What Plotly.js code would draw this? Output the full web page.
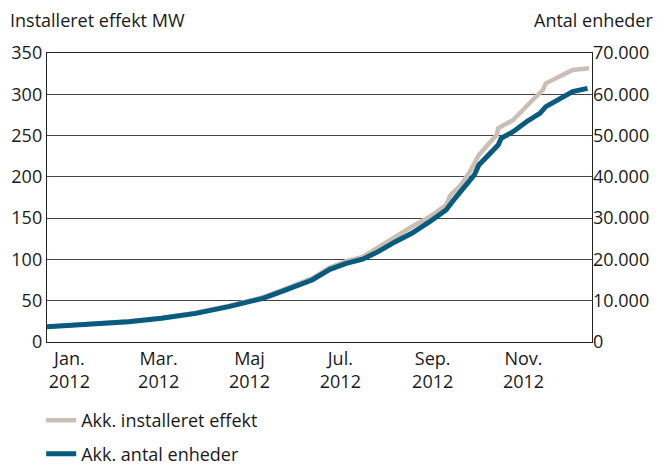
<!DOCTYPE html>
<html>
<head>
<meta charset="utf-8">
<script src="https://cdn.plot.ly/plotly-3.0.1.min.js"></script>
<style>html,body{margin:0;padding:0;background:#fff;}#chart{width:664px;height:466px;}</style>
</head>
<body>
<div id="chart"></div>
<script>
// Akk. antal enheder (right axis)
const unitDates = ['2012-01-01','2012-02-03','2012-02-25','2012-03-18','2012-04-10','2012-05-02','2012-05-25','2012-06-05','2012-06-16','2012-06-27','2012-07-09','2012-07-20','2012-07-31','2012-08-11','2012-08-22','2012-09-02','2012-09-14','2012-09-25','2012-10-01','2012-10-08','2012-10-14','2012-10-17','2012-10-24','2012-10-30','2012-11-01','2012-11-09','2012-11-18','2012-11-27','2012-12-01','2012-12-12','2012-12-19','2012-12-29'];
const unitValues = [3700,4280,4920,5740,6940,8560,10580,12040,13400,15020,17600,19060,20040,22000,24300,26320,29140,31980,34800,37620,40460,42880,45700,47720,49340,50940,53360,55380,57000,59020,60640,61440];

// Akk. installeret effekt MW (left axis)
const mwDates = ['2012-01-01','2012-02-03','2012-02-25','2012-03-18','2012-04-10','2012-05-02','2012-05-25','2012-06-05','2012-06-16','2012-06-27','2012-07-09','2012-07-20','2012-07-31','2012-08-11','2012-08-22','2012-09-02','2012-09-14','2012-09-25','2012-09-28','2012-10-04','2012-10-11','2012-10-17','2012-10-24','2012-10-29','2012-10-30','2012-11-09','2012-11-20','2012-11-29','2012-12-01','2012-12-12','2012-12-19','2012-12-30'];
const mwValues = [18.5,21.6,25.0,29.2,35.4,43.8,54.2,61.6,68.8,77.0,90.2,97.8,103.0,115.4,127.5,139.6,151.7,165.9,178.0,188.1,206.3,226.5,240.6,250.7,258.8,268.9,289.1,305.2,313.3,323.4,329.4,331.4];

const xTickVals = ['2012-01-16','2012-03-16','2012-05-16','2012-07-16','2012-09-16','2012-11-16'];
const xTickText = ['Jan.<br>2012','Mar.<br>2012','Maj<br>2012','Jul.<br>2012','Sep.<br>2012','Nov.<br>2012'];
const leftTicks = [0,50,100,150,200,250,300,350];
const rightTicks = [0,10000,20000,30000,40000,50000,60000,70000];
const rightTickText = ['0','10.000','20.000','30.000','40.000','50.000','60.000','70.000'];

const font = {family: '"Open Sans", "Noto Sans", sans-serif', size: 18, color: '#1a1a1a'};

const traces = [
  {x: mwDates, y: mwValues, type: 'scatter', mode: 'lines', name: 'Akk. installeret effekt',
   legendgroup: 'a', line: {color: '#cbbfb5', width: 4.5}, yaxis: 'y'},
  {x: unitDates, y: unitValues, type: 'scatter', mode: 'lines', name: 'Akk. antal enheder',
   legendgroup: 'b', line: {color: '#065b7e', width: 5}, yaxis: 'y2'}
];

const layout = {
  width: 664, height: 466,
  margin: {l: 47, r: 72, t: 53, b: 124, autoexpand: false},
  paper_bgcolor: '#fff', plot_bgcolor: '#fff',
  font: font,
  showlegend: true,
  legend: {xref: 'container', yref: 'container', x: 0.062, xanchor: 'left', y: 0.137, yanchor: 'top',
           orientation: 'v', font: font, bgcolor: 'rgba(0,0,0,0)', tracegroupgap: 7},
  xaxis: {type: 'date', range: ['2012-01-01','2013-01-01'], tickvals: xTickVals, ticktext: xTickText,
          showgrid: false, zeroline: false, showline: true, linecolor: '#222', linewidth: 1.2, mirror: true,
          ticks: '', tickfont: font, automargin: false},
  yaxis: {range: [0, 350], tickvals: leftTicks, showgrid: true, gridcolor: '#444', gridwidth: 1, automargin: false,
          zeroline: false, showline: true, linecolor: '#222', linewidth: 1.2, mirror: true, ticks: '', tickfont: font},
  yaxis2: {range: [0, 70000], overlaying: 'y', side: 'right', tickvals: rightTicks, ticktext: rightTickText,
           automargin: false, showgrid: false, zeroline: false, showline: false, ticks: '', tickfont: font},
  annotations: [
    {text: 'Installeret effekt MW', xref: 'paper', yref: 'paper', x: -0.0716, y: 1.114,
     xanchor: 'left', yanchor: 'middle', showarrow: false, font: font},
    {text: 'Antal enheder', xref: 'paper', yref: 'paper', x: 1.1156, y: 1.114,
     xanchor: 'right', yanchor: 'middle', showarrow: false, font: font}
  ]
};

Plotly.newPlot('chart', traces, layout, {displayModeBar: false, staticPlot: true});
</script>
</body>
</html>
